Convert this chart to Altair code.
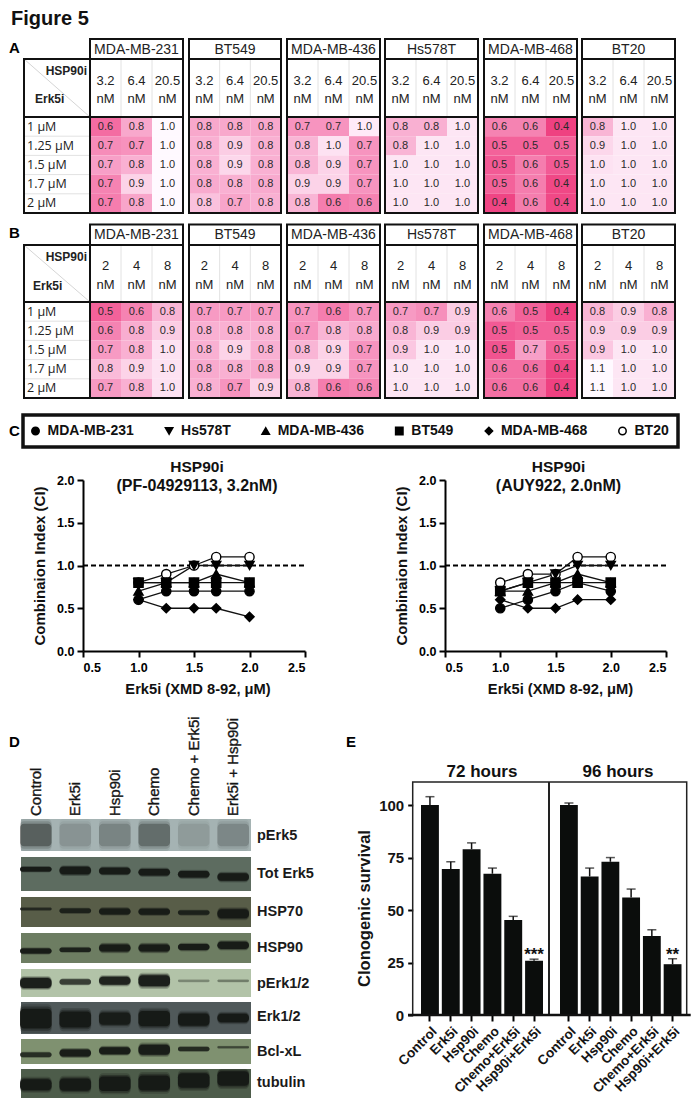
import altair as alt
import pandas as pd

SANS = "Liberation Sans"
ROWS = ["1 μM", "1.25 μM", "1.5 μM", "1.7 μM", "2 μM"]
CELLS = ["MDA-MB-231", "BT549", "MDA-MB-436", "Hs578T", "MDA-MB-468", "BT20"]

# ---- table A: printed CI and the (estimated) unrounded CI behind the shade
A_DOSES = ["3.2", "6.4", "20.5"]
A_231 = [[.6, .8, 1.0], [.7, .7, 1.0], [.7, .8, 1.0], [.7, .9, 1.0], [.7, .8, 1.0]]
A_549 = [[.8, .8, .8], [.8, .9, .8], [.8, .9, .8], [.8, .8, .8], [.8, .7, .8]]
A_436 = [[.7, .7, 1.0], [.8, 1.0, .7], [.8, .9, .7], [.9, .9, .7], [.8, .6, .6]]
A_HS = [[.8, .8, 1.0], [.8, 1.0, 1.0], [1.0, 1.0, 1.0], [1.0, 1.0, 1.0], [1.0, 1.0, 1.0]]
A_468 = [[.6, .6, .4], [.5, .5, .5], [.5, .6, .5], [.5, .6, .4], [.4, .6, .4]]
A_B20 = [[.8, 1.0, 1.0], [.9, 1.0, 1.0], [1.0, 1.0, 1.0], [1.0, 1.0, 1.0], [1.0, 1.0, 1.0]]
A_231S = [[.55, .75, 1.1], [.65, .67, 1.1], [.72, .78, 1.1], [.62, .9, 1.1], [.6, .74, 1.1]]
A_549S = [[.75, .75, .75], [.78, .88, .78], [.78, .92, .78], [.76, .78, .76], [.84, .74, .78]]
A_436S = [[.68, .68, 1.02], [.8, .98, .68], [.8, .9, .68], [.9, .9, .68], [.8, .6, .62]]
A_HSS = [[.78, .78, 1.0], [.8, 1.0, 1.0], [1.0, 1.0, 1.0], [1.0, 1.0, 1.0], [1.0, 1.0, 1.0]]
A_468S = [[.62, .62, .42], [.52, .52, .52], [.5, .6, .5], [.52, .6, .44], [.43, .6, .44]]
A_B20S = [[.8, 1.0, 1.0], [.92, 1.0, 1.0], [.98, 1.0, 1.0], [1.0, 1.0, 1.0], [1.0, 1.0, 1.0]]

# ---- table B
B_DOSES = ["2", "4", "8"]
B_231 = [[.5, .6, .8], [.6, .8, .9], [.7, .8, 1.0], [.8, .9, 1.0], [.7, .8, 1.0]]
B_549 = [[.7, .7, .7], [.8, .8, .8], [.8, .9, .8], [.8, .8, .8], [.8, .7, .9]]
B_436 = [[.7, .6, .7], [.7, .8, .8], [.8, .9, .7], [.9, .9, .7], [.8, .6, .6]]
B_HS = [[.7, .7, .9], [.8, .9, .9], [.9, 1.0, 1.0], [1.0, 1.0, 1.0], [1.0, 1.0, 1.0]]
B_468 = [[.6, .5, .4], [.5, .5, .5], [.5, .7, .5], [.6, .6, .4], [.6, .6, .4]]
B_B20 = [[.8, .9, .8], [.9, .9, .9], [.9, 1.0, 1.0], [1.1, 1.0, 1.0], [1.1, 1.0, 1.0]]
B_231S = [[.52, .62, .8], [.62, .77, .88], [.7, .78, .98], [.82, .9, .98], [.7, .78, .98]]
B_549S = [[.7, .7, .7], [.78, .78, .78], [.78, .9, .78], [.76, .78, .76], [.78, .68, .9]]
B_436S = [[.68, .6, .68], [.68, .8, .76], [.8, .9, .68], [.9, .9, .68], [.8, .6, .62]]
B_HSS = [[.7, .66, .88], [.8, .88, .88], [.86, 1.0, 1.0], [1.0, 1.0, 1.0], [1.0, 1.0, 1.0]]
B_468S = [[.62, .52, .42], [.5, .52, .52], [.48, .72, .52], [.56, .56, .43], [.56, .56, .42]]
B_B20S = [[.8, .88, .78], [.88, .88, .88], [.86, 1.0, 1.0], [1.1, 1.0, 1.0], [1.1, 1.0, 1.0]]

SHADE_DOMAIN = [.4, .5, .6, .7, .8, .9, 1.0, 1.1]
SHADE_RANGE = ["#ee3a7c", "#f25a95", "#f57dae", "#f79ac3", "#f9b5d5", "#fcd3e8", "#fde6f4", "#ffffff"]

# ---- panel C
ERK = [1.0, 1.25, 1.5, 1.7, 2.0]
LEGEND_ORDER = ["MDA-MB-231", "Hs578T", "MDA-MB-436", "BT549", "MDA-MB-468", "BT20"]
SHAPES = ["circle", "triangle-down", "triangle-up", "square", "diamond", "circle"]
FILLS = ["black", "black", "black", "black", "black", "white"]
DRAW_ORDER = ["BT20", "MDA-MB-231", "BT549", "MDA-MB-436", "Hs578T", "MDA-MB-468"]
PF = {"MDA-MB-231": [.6, .7, .7, .7, .7], "BT549": [.8, .8, .8, .8, .8], "MDA-MB-436": [.7, .8, .8, .9, .8],
      "Hs578T": [.8, .8, 1.0, 1.0, 1.0], "MDA-MB-468": [.6, .5, .5, .5, .4], "BT20": [.8, .9, 1.0, 1.1, 1.1]}
AUY = {"MDA-MB-231": [.5, .6, .7, .8, .7], "BT549": [.7, .8, .8, .8, .8], "MDA-MB-436": [.7, .7, .8, .9, .8],
       "Hs578T": [.7, .8, .9, 1.0, 1.0], "MDA-MB-468": [.6, .5, .5, .6, .6], "BT20": [.8, .9, .9, 1.1, 1.1]}

# ---- panel D: band centre, thickness (fraction of the blot height), density per lane
LANES = ["Control", "Erk5i", "Hsp90i", "Chemo", "Chemo + Erk5i", "Erk5i + Hsp90i"]
BLOT_NAMES = ["pErk5", "Tot Erk5", "HSP70", "HSP90", "pErk1/2", "Erk1/2", "Bcl-xL", "tubulin"]
BLOT_CENTER = [[.5] * 6,
               [.36, .40, .41, .45, .51, .59],
               [.40, .46, .48, .49, .52, .56],
               [.60, .56, .50, .50, .47, .41],
               [.50, .46, .42, .42, .42, .42],
               [.52, .55, .52, .52, .55, .50],
               [.63, .56, .47, .43, .40, .33],
               [.54, .54, .51, .48, .40, .33]]
BLOT_THICK = [[.7] * 6,
              [.13, .22, .19, .19, .19, .22],
              [.08, .15, .2, .2, .14, .3],
              [.17, .14, .24, .24, .2, .24],
              [.35, .18, .28, .4, .08, .08],
              [.62, .5, .38, .47, .38, .27],
              [.18, .28, .28, .4, .16, .08],
              [.38, .42, .5, .52, .5, .5]]
BLOT_DENS = [[.42, .14, .22, .34, .1, .2],
             [1, 1, 1, 1, 1, 1],
             [.7, .85, .95, .95, .85, 1],
             [1, .9, 1, 1, 1, 1],
             [1, .7, .95, 1, .25, .3],
             [1, 1, .95, 1, 1, 1],
             [.75, 1, 1, 1, .8, .5],
             [1, 1, 1, 1, 1, 1]]
BLOT_BG = ["#a5b3b3", "#5d6c60", "#585d48", "#6d7d62", "#b2c3a8", "#50595a", "#7f9170", "#4d5c4a"]
BLOT_TOP = [819, 857, 897, 933, 969, 1002, 1039, 1069]
BLOT_BOT = [851, 891, 927, 963, 997, 1034, 1064, 1098]
BLOT_LABEL_Y = [836, 874, 912, 948, 984, 1017, 1052, 1083]

# ---- panel E
TREAT = ["Control", "Erk5i", "Hsp90i", "Chemo", "Chemo+Erk5i", "Hsp90i+Erk5i"]
H72 = [100, 69.5, 79, 67.3, 45.2, 25.8]
H72_TOP = [104, 73, 82, 70, 47, 26.6]
H96 = [100, 66, 73, 56, 37.6, 24.2]
H96_TOP = [101, 70, 75, 60, 40.6, 26.8]

ONE = pd.DataFrame({"a": [0]})
layers = []


def txt(s, x, y, size=12, weight="normal", align="left", angle=0, color="black", font=SANS):
    return alt.Chart(pd.DataFrame({"t": [s]})).mark_text(
        font=font, fontSize=size, fontWeight=weight, align=align, baseline="middle", angle=angle, color=color
    ).encode(x=alt.value(x - 8), y=alt.value(y - 8), text="t:N")


def box(x0, x1, y0, y1, width=2, color="#111111"):
    return alt.Chart(ONE).mark_rect(fillOpacity=0, stroke=color, strokeWidth=width).encode(
        x=alt.value(x0 - 8), x2=alt.value(x1 - 8), y=alt.value(y0 - 8), y2=alt.value(y1 - 8))


def line(x0, x1, y0, y1, width=1, color="#dddddd"):
    return alt.Chart(ONE).mark_rule(stroke=color, strokeWidth=width).encode(
        x=alt.value(x0 - 8), x2=alt.value(x1 - 8), y=alt.value(y0 - 8), y2=alt.value(y1 - 8))


PANEL_X = [(90, 183), (189, 281), (287, 380), (385, 478), (484, 577), (582, 675)]


def heat(name, doses, vals, shades, x0, x1, y_top, y_head, y_cell, y_end, y_d1, y_d2):
    rec = []
    for r, row in enumerate(ROWS):
        for c, d in enumerate(doses):
            rec.append({"row": row, "dose": d, "lab": f"{vals[r][c]:.1f}", "shade": shades[r][c]})
    df = pd.DataFrame(rec)
    xs = alt.X("dose:N", axis=None, scale=alt.Scale(type="band", domain=doses, range=[x0 - 8, x1 - 8],
                                                    paddingInner=0, paddingOuter=0))
    ys = alt.Y("row:N", axis=None, scale=alt.Scale(type="band", domain=ROWS, range=[y_cell - 8, y_end - 8],
                                                   paddingInner=0, paddingOuter=0))
    cells = alt.Chart(df).mark_rect().encode(
        x=xs, y=ys,
        color=alt.Color("shade:Q", legend=None, scale=alt.Scale(domain=SHADE_DOMAIN, range=SHADE_RANGE)))
    labs = alt.Chart(df).mark_text(font=SANS, fontSize=11, color="#2a2a2a", baseline="middle").encode(
        x=xs, y=ys, text="lab:N")
    ddf = pd.DataFrame({"dose": doses, "unit": ["nM"] * 3})
    d1 = alt.Chart(ddf).mark_text(font=SANS, fontSize=13, color="#222222", baseline="middle").encode(
        x=xs, y=alt.value(y_d1 - 8), text="dose:N")
    d2 = alt.Chart(ddf).mark_text(font=SANS, fontSize=13, color="#222222", baseline="middle").encode(
        x=xs, y=alt.value(y_d2 - 8), text="unit:N")
    w = (x1 - x0) / 3
    out = [alt.layer(cells, labs, d1, d2)]
    out += [line(x0 + w * k, x0 + w * k, y_head, y_cell, 1, "#e2e2e2") for k in (1, 2)]
    out += [txt(name, (x0 + x1) / 2, (y_top + y_head) / 2 + .5, 14, align="center", color="#222222")]
    out += [box(x0, x1, y_top, y_head), box(x0, x1, y_head, y_cell), box(x0, x1, y_cell, y_end)]
    return out


def side(y_head, y_cell, y_end, hsp_y, erk_x, erk_y):
    out = [line(24, 90, y_head, y_cell, 1, "#d5d5d5")]
    ys = alt.Y("row:N", axis=None, scale=alt.Scale(type="band", domain=ROWS, range=[y_cell - 8, y_end - 8],
                                                   paddingInner=0, paddingOuter=0))
    out.append(alt.Chart(pd.DataFrame({"row": ROWS})).mark_text(
        font="Open Sans", fontSize=12.5, color="#222222", align="left", baseline="middle").encode(
        x=alt.value(27 - 8), y=ys, text="row:N"))
    step = (y_end - y_cell) / 5
    out += [line(24, 90, y_cell + step * k, y_cell + step * k, 1, "#e2e2e2") for k in (1, 2, 3, 4)]
    out.append(txt("HSP90i", 87, hsp_y, 12, "bold", "right", color="#222222"))
    out.append(txt("Erk5i", erk_x, erk_y, 12, "bold", color="#222222"))
    out += [box(24, 90, y_head, y_end), line(24, 90, y_cell, y_cell, 2, "#111111")]
    return out


# ---------- A and B
A_ALL = [(A_231, A_231S), (A_549, A_549S), (A_436, A_436S), (A_HS, A_HSS), (A_468, A_468S), (A_B20, A_B20S)]
B_ALL = [(B_231, B_231S), (B_549, B_549S), (B_436, B_436S), (B_HS, B_HSS), (B_468, B_468S), (B_B20, B_B20S)]
layers += side(59, 117, 213, 71, 35, 99)
layers += side(245, 302, 398, 257, 33, 286)
for (x0, x1), nm, (v, s) in zip(PANEL_X, CELLS, A_ALL):
    layers += heat(nm, A_DOSES, v, s, x0, x1, 39, 59, 117, 213, 81, 99)
for (x0, x1), nm, (v, s) in zip(PANEL_X, CELLS, B_ALL):
    layers += heat(nm, B_DOSES, v, s, x0, x1, 224.5, 245, 302, 398, 265.5, 285)

# ---------- C
layers.append(box(23, 678, 415, 447, 3.5))
LEG = alt.Legend(orient="none", legendX=20.5, legendY=416, direction="horizontal", columns=6, title=None,
                 gridAlign="none", labelFontWeight="bold", labelFontSize=14, labelFont=SANS, labelColor="#111111",
                 symbolSize=55, symbolStrokeWidth=1.5, labelOffset=5, columnPadding=27.6,
                 labelLimit=200)


def ci_panel(series, x0, x1, title, sub, ytitle_pad, xtitle_mid):
    rec = []
    for cell in DRAW_ORDER:
        for e, v in zip(ERK, series[cell]):
            rec.append({"cell": cell, "erk": e, "ci": v})
    df = pd.DataFrame(rec)
    x_sc = alt.Scale(domain=[.5, 2.5], range=[x0 - 8, x1 - 8], nice=False, zero=False)
    x_ax = alt.Axis(orient="bottom", offset=651 - 8 - 1094, values=[.5, 1, 1.5, 2, 2.5], format=".1f",
                    grid=False, domainWidth=2, tickWidth=2, tickSize=6, domainColor="black",
                    tickColor="black", labelFont=SANS, labelFontWeight="bold", labelFontSize=12.5,
                    labelColor="black", labelPadding=4, titleFont=SANS, titleFontSize=14.7,
                    titleFontWeight="bold", titleColor="#111111", titlePadding=8, labelOverlap=False,
                    titleX=xtitle_mid - 8)
    xt = "Erk5i (XMD 8-92, μM)"
    xs = alt.X("erk:Q", title=xt, scale=x_sc, axis=x_ax)
    ys = alt.Y("ci:Q", title="Combinaion Index (CI)",
               scale=alt.Scale(domain=[0, 2], range=[651 - 8, 480 - 8], nice=False, zero=False),
               axis=alt.Axis(orient="left", offset=-(x0 - 8), values=[0, .5, 1, 1.5, 2], format=".1f",
                             grid=False, domainWidth=2, tickWidth=2, tickSize=6, domainColor="black",
                             tickColor="black", labelFont=SANS, labelFontWeight="bold", labelFontSize=12.5,
                             labelColor="black", labelPadding=3, titleFont=SANS, titleFontSize=15,
                             titleFontWeight="bold", titleColor="#111111", titlePadding=ytitle_pad, labelOverlap=False))
    dash = alt.Chart(pd.DataFrame({"a": [.5], "b": [2.5], "ci": [1.0]})).mark_rule(
        stroke="black", strokeWidth=2, strokeDash=[5, 3]).encode(
        x=alt.X("a:Q", scale=x_sc, axis=x_ax, title=xt), x2="b:Q", y=ys)
    lines = alt.Chart(df).mark_line(stroke="#111111", strokeWidth=1.3).encode(
        x=xs, y=ys, detail="cell:N", order="erk:Q")
    pts = alt.Chart(df).mark_point(filled=True, strokeWidth=1.4, size=85, opacity=1).encode(
        x=xs, y=ys,
        shape=alt.Shape("cell:N", legend=LEG, scale=alt.Scale(domain=LEGEND_ORDER, range=SHAPES)),
        fill=alt.Fill("cell:N", legend=LEG, scale=alt.Scale(domain=LEGEND_ORDER, range=FILLS)),
        stroke=alt.Stroke("cell:N", legend=LEG, scale=alt.Scale(domain=LEGEND_ORDER, range=["black"] * 6)))
    cx = (x0 + x1) / 2
    return [alt.layer(dash, lines, pts), txt(title, cx + 3, 467, 15.5, "bold", "center", color="#111111"),
            txt(sub, cx + 3, 486, 16, "bold", "center", color="#111111")]


layers += ci_panel(PF, 83, 305, "HSP90i", "(PF-04929113, 3.2nM)", 9, 197.5)
layers += ci_panel(AUY, 445, 666, "HSP90i", "(AUY922, 2.0nM)", 9, 560)

# ---------- D
lane_x = alt.Scale(type="band", domain=LANES, range=[20 - 8, 249 - 8], paddingInner=.2, paddingOuter=0)
for b, nm in enumerate(BLOT_NAMES):
    y0, y1 = BLOT_TOP[b], BLOT_BOT[b]
    y_sc = alt.Scale(domain=[0, 1], range=[y0 - 8, y1 - 8], nice=False, zero=False)
    bg = alt.Chart(pd.DataFrame({"a": [0.0], "b": [1.0]})).mark_rect(color=BLOT_BG[b]).encode(
        x=alt.value(21 - 8), x2=alt.value(251 - 8),
        y=alt.Y("a:Q", axis=None, scale=y_sc),
        y2="b:Q")
    stack = [bg]
    for grow, alpha in ((1.45, .22), (1.22, .4), (1.0, .9)):
        df = pd.DataFrame({"lane": LANES,
                           "t": [min(max(c - th * grow / 2, 0), 1) for c, th in zip(BLOT_CENTER[b], BLOT_THICK[b])],
                           "u": [min(max(c + th * grow / 2, 0), 1) for c, th in zip(BLOT_CENTER[b], BLOT_THICK[b])],
                           "d": [alpha * d for d in BLOT_DENS[b]]})
        stack.append(alt.Chart(df).mark_bar(color="#141714", cornerRadius=4).encode(
            x=alt.X("lane:N", axis=None, scale=lane_x),
            y=alt.Y("t:Q", axis=None, scale=y_sc),
            y2="u:Q", opacity=alt.Opacity("d:Q", scale=None, legend=None)))
    layers.append(alt.layer(*stack))
    layers.append(txt(nm, 257, BLOT_LABEL_Y[b], 14.5, "bold", color="#1a1a1a"))
layers.append(alt.Chart(pd.DataFrame({"lane": LANES})).mark_text(
    font=SANS, fontSize=15, color="#151515", stroke="#151515", strokeWidth=.35, align="left", baseline="middle",
    angle=270).encode(x=alt.X("lane:N", axis=None, scale=lane_x), y=alt.value(816 - 8), text="lane:N"))


# ---------- E
def bars(vals, tops, x0, x1, stars, with_y):
    df = pd.DataFrame({"t": TREAT, "v": vals, "top": tops})
    x_sc = alt.Scale(type="band", domain=TREAT, range=[x0 - 8, x1 - 8], paddingInner=.14, paddingOuter=0)
    x_ax = alt.Axis(orient="bottom", offset=1015 - 8 - 1094, domain=False, grid=False, tickWidth=2,
                    tickSize=6, tickColor="black", labelAngle=-45, labelAlign="right", labelBaseline="top",
                    labelFont=SANS, labelFontWeight="bold", labelFontSize=13.5, labelColor="#151515",
                    labelPadding=3, labelOverlap=False, labelLimit=200)
    xs = alt.X("t:N", title=None, sort=TREAT, scale=x_sc, axis=x_ax)
    yaxis = alt.Axis(orient="left", offset=-(412.7 - 8), values=[0, 25, 50, 75, 100], domain=False, grid=False,
                     tickWidth=2, tickSize=5, tickColor="black", labelFont=SANS, labelFontWeight="bold",
                     labelFontSize=15, labelColor="#151515", labelPadding=4, title="Clonogenic survival",
                     titleFont=SANS, titleFontSize=16.5, titleFontWeight="bold", titleColor="#151515",
                     titlePadding=6, titleY=900, labelOverlap=False) if with_y else None
    y_sc = alt.Scale(domain=[0, 111], range=[1015 - 8, 782 - 8], nice=False, zero=False)
    ys = alt.Y("v:Q", axis=yaxis, scale=y_sc, title="Clonogenic survival")
    b = alt.Chart(df).mark_bar(color="#0b0d0c").encode(x=xs, y=ys)
    stem = alt.Chart(df).mark_rule(color="#111111", strokeWidth=1.5).encode(x=xs, y=ys, y2="top:Q")
    cap = alt.Chart(df).mark_tick(color="#111111", thickness=1.5, size=9).encode(
        x=xs, y=alt.Y("top:Q", axis=yaxis, scale=y_sc, title="Clonogenic survival"))
    star = alt.Chart(pd.DataFrame({"t": [TREAT[-1]], "v": [28.5], "s": [stars]})).mark_text(
        font=SANS, fontSize=17, fontWeight="bold", color="#111111", baseline="middle").encode(
        x=xs, y=ys, text="s:N")
    return alt.layer(b, stem, cap, star)


layers.append(bars(H72, H72_TOP, 421, 543, "***", True))
layers.append(bars(H96, H96_TOP, 560, 681.5, "**", False))
layers += [box(412.7, 686.7, 782, 1015, 1.5, "#222222"), line(549, 549, 782, 1015, 2, "#222222"),
           line(408, 690.7, 1015, 1015, 2.5, "#111111"),
           txt("72 hours", 482, 772, 17, "bold", "center", color="#111111"),
           txt("96 hours", 618, 772, 17, "bold", "center", color="#111111")]

# ---------- letters (the page margin keeps the canvas from starting left of x = 8)
layers += [txt("Figure 5", 11, 19, 20, "bold", color="#111111"),
           txt("A", 9, 48, 15, "bold"), txt("B", 9, 233, 15, "bold"), txt("C", 9, 431, 15, "bold"),
           txt("D", 9, 742, 15, "bold"), txt("E", 346, 742, 15, "bold")]

chart = alt.layer(*layers).resolve_scale(x="independent", y="independent").resolve_axis(
    x="independent", y="independent"
).properties(width=684, height=1094, padding=0, autosize="none", background="white"
).configure_view(stroke=None)

chart.save("out.html", embed_options={"renderer": "svg", "actions": False})
